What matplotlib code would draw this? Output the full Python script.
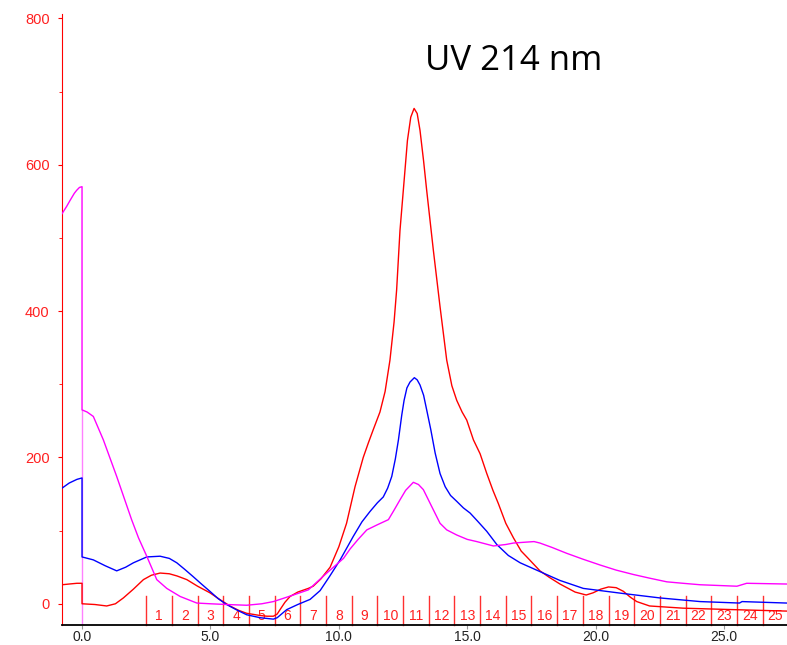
import numpy as np
import matplotlib.pyplot as plt

# UV 214 nm trace, three runs
red_x = [-0.78, -0.5, -0.2, 0.0, 0.0, 0.5, 0.96, 1.3, 1.61, 2.0, 2.39, 2.7, 3.04, 3.4, 3.7,
         4.08, 4.5, 4.98, 5.4, 5.76, 6.1, 6.41, 6.93, 7.2, 7.45, 7.6, 7.71, 7.9, 8.1, 8.4,
         8.81, 9.0, 9.3, 9.66, 10.0, 10.3, 10.63, 10.95, 11.15, 11.34, 11.6, 11.8, 11.99,
         12.15, 12.25, 12.38, 12.51, 12.67, 12.8, 12.93, 13.05, 13.16, 13.3, 13.42, 13.68,
         13.94, 14.2, 14.4, 14.59, 14.8, 14.98, 15.24, 15.5, 15.76, 16.0, 16.21, 16.5, 16.8,
         17.1, 17.32, 17.83, 18.2, 18.61, 19.2, 19.63, 19.9, 20.2, 20.5, 20.8, 21.08, 21.35,
         21.6, 22.1, 23.4, 25.36, 27.44]
red_y = [26, 27, 28, 28, 0, -1, -3, 0, 8, 20, 33, 39, 42, 41, 38,
         33, 24, 15, 5, -3, -9, -13, -16, -17, -17, -14, -8, 2, 10, 16,
         21, 24, 34, 50, 78, 110, 160, 200, 220, 238, 262, 290, 333,
         385, 429, 510, 565, 633, 665, 677, 670, 647, 605, 565, 483,
         406, 333, 298, 278, 262, 251, 224, 205, 178, 155, 137, 110, 90,
         72, 64, 45, 36, 27, 16, 12, 15, 20, 23, 22, 17, 9,
         3, -3, -6, -8, -10]

blue_x = [-0.78, -0.5, -0.2, 0.0, 0.0, 0.44, 0.9, 1.35, 1.7, 2.0, 2.52, 3.04, 3.4, 3.69,
          4.0, 4.33, 4.65, 4.98, 5.3, 5.63, 6.0, 6.41, 6.93, 7.45, 7.6, 7.97, 8.4, 8.88,
          9.27, 9.65, 10.05, 10.56, 10.9, 11.21, 11.5, 11.73, 11.9, 12.06, 12.2, 12.32,
          12.45, 12.54, 12.65, 12.77, 12.94, 13.05, 13.16, 13.3, 13.42, 13.58, 13.75, 13.94,
          14.14, 14.35, 14.59, 14.85, 15.11, 15.4, 15.76, 16.15, 16.6, 17.06, 17.83, 18.6,
          19.52, 21.08, 22.5, 24.07, 25.6, 25.7, 27.44]
blue_y = [158, 165, 170, 172, 64, 60, 52, 45, 50, 56, 64, 65, 62, 56,
          47, 37, 27, 17, 7, -1, -8, -15, -19, -21, -19, -8, -1, 6,
          18, 38, 60, 92, 112, 126, 138, 146, 158, 174, 198, 224,
          258, 278, 295, 303, 309, 306, 299, 285, 265, 238, 206, 178,
          160, 148, 140, 131, 124, 113, 99, 81, 66, 56, 44, 32,
          21, 14, 8, 3, 1, 3, 1]

mag_x = [-0.78, -0.6, -0.47, -0.3, -0.21, -0.1, 0.0, 0.0, 0.2, 0.44, 0.83, 1.35, 1.93,
         2.2, 2.52, 2.91, 3.3, 3.82, 4.47, 5.0, 5.63, 6.41, 7.0, 7.45, 7.8, 8.23, 8.81,
         9.0, 9.53, 10.18, 10.44, 10.75, 11.09, 11.5, 11.93, 12.15, 12.38, 12.6, 12.9,
         13.1, 13.29, 13.6, 13.94, 14.2, 14.59, 15.0, 15.37, 16.02, 16.5, 16.8, 17.19,
         17.6, 17.83, 18.3, 18.87, 19.5, 20.17, 20.8, 21.47, 22.1, 22.77, 23.4, 24.07,
         25.5, 25.88, 27.44]
mag_y = [533, 543, 551, 561, 565, 569, 570, 265, 262, 256, 224, 174, 115,
         90, 65, 33, 21, 10, 1, 0, -1, -2, 0, 3, 7, 12, 19,
         25, 42, 62, 75, 88, 101, 108, 115, 128, 142, 155, 166,
         163, 156, 134, 110, 101, 94, 88, 85, 79, 81, 83, 84,
         85, 83, 77, 69, 61, 53, 46, 40, 35, 30, 28, 26,
         24, 28, 27]

frac_edges = [2.5, 3.5, 4.5, 5.5, 6.5, 7.5, 8.5, 9.5, 10.5, 11.5, 12.5, 13.5, 14.5,
              15.5, 16.5, 17.5, 18.5, 19.5, 20.5, 21.5, 22.5, 23.5, 24.5, 25.5, 26.5, 27.5]
frac_labels = [str(i) for i in range(1, 26)]

x_ticks = [0, 5, 10, 15, 20, 25]
y_ticks = [0, 200, 400, 600, 800]

fig = plt.figure(figsize=(7.87, 6.45), dpi=100)
ax = fig.add_axes([62/787, 20/645, 1 - 62/787, 1 - 20/645 - 14/645])

ax.set_xlim(-0.78, 27.45)
ax.set_ylim(-29, 806)

# fraction marks
for e in frac_edges:
    ax.plot([e, e], [-29, 11], color='#ff3030', lw=1.0, zorder=1, clip_on=False)
for i, lab in enumerate(frac_labels):
    mid = (frac_edges[i] + frac_edges[i + 1]) / 2
    ax.text(mid, -17, lab, color='#ff2020', fontsize=10, ha='center', va='center',
            family='Liberation Sans')

# injection mark
ax.plot([0, 0], [-29, 265], color='#ff80ff', lw=1.0, zorder=2)

ax.plot(red_x, red_y, color='#ff0000', lw=1.0, zorder=3)
ax.plot(blue_x, blue_y, color='#0000ff', lw=1.0, zorder=4)
ax.plot(mag_x, mag_y, color='#ff00ff', lw=1.0, zorder=5)

ax.spines['top'].set_visible(False)
ax.spines['right'].set_visible(False)
ax.spines['left'].set_color('#ff0000')
ax.spines['bottom'].set_color('black')
ax.spines['bottom'].set_linewidth(1.3)

ax.set_xticks(x_ticks)
ax.set_xticklabels([f'{t:.1f}' for t in x_ticks], family='Liberation Sans', fontsize=10,
                   color='#222222')
ax.tick_params(axis='x', direction='out', length=3, color='#999999', pad=0.5)

ax.set_yticks(y_ticks)
ax.set_yticks([100, 300, 500, 700], minor=True)
ax.set_yticklabels([str(t) for t in y_ticks], family='Liberation Sans', fontsize=10.5,
                   color='#ff2020')
ax.tick_params(axis='y', which='major', direction='out', length=3, color='#ff0000', pad=6)
ax.tick_params(axis='y', which='minor', direction='out', length=2, color='#ff0000')

fig.text(514/787, 1 - 61/645, 'UV 214 nm', fontsize=25, family='Open Sans',
         ha='center', va='center', color='black')

fig.savefig('out.png', dpi=100)
